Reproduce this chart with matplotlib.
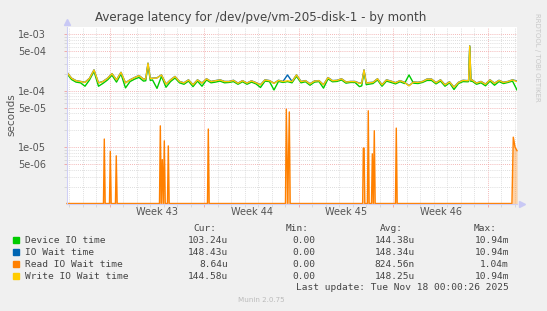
import numpy as np
import matplotlib
matplotlib.use('Agg')
import matplotlib.pyplot as plt
from matplotlib.patches import Rectangle

# time axis in hours since left edge of the graph (8h steps + extra points at spikes)
hours = sorted(list(range(0, 801, 8)) + [140, 148, 524, 532, 714, 716, 718])

# values in units of 1e-4 s
device_io = [2.00, 1.58, 1.42, 1.38, 1.20, 1.55, 2.20, 1.20, 1.35, 1.55,
             1.88, 1.42, 1.98, 1.12, 1.45, 1.60, 1.72, 1.48,
             1.50, 2.90, 1.52,
             1.55, 1.10, 1.80, 1.15, 1.45, 1.68, 1.38, 1.30, 1.48, 1.18, 1.48,
             1.20, 1.55, 1.38, 1.42, 1.48, 1.38, 1.40, 1.45, 1.30, 1.44,
             1.30, 1.42, 1.32, 1.14, 1.48, 1.45, 1.03, 1.46, 1.40, 1.45,
             1.38, 1.80, 1.38, 1.44, 1.25, 1.42, 1.45, 1.11, 1.62, 1.44,
             1.46, 1.55, 1.36, 1.40, 1.40, 1.18,
             1.22, 2.20, 1.28,
             1.30, 1.34, 1.55,
             1.20, 1.48, 1.40, 1.32, 1.44, 1.34, 1.90, 1.36, 1.34, 1.40,
             1.52, 1.52, 1.32, 1.48, 1.20, 1.38, 1.05, 1.34, 1.45, 1.44,
             1.45, 6.00, 1.46,
             1.48, 1.30, 1.38, 1.22, 1.48, 1.25, 1.45, 1.34, 1.40, 1.48, 1.03]
io_wait = [2.12, 1.67, 1.51, 1.46, 1.41, 1.66, 2.34, 1.38, 1.46, 1.66,
           2.01, 1.56, 2.12, 1.38, 1.56, 1.71, 1.86, 1.61,
           1.63, 3.08, 1.65,
           1.67, 1.69, 1.91, 1.31, 1.56, 1.79, 1.46, 1.38, 1.56, 1.28, 1.56,
           1.37, 1.63, 1.46, 1.51, 1.56, 1.46, 1.46, 1.53, 1.36, 1.51,
           1.37, 1.50, 1.39, 1.28, 1.56, 1.51, 1.36, 1.53, 1.46, 1.90,
           1.46, 1.91, 1.46, 1.51, 1.33, 1.49, 1.51, 1.28, 1.71, 1.51,
           1.53, 1.63, 1.43, 1.46, 1.46, 1.36,
           1.37, 2.34, 1.38,
           1.39, 1.41, 1.63,
           1.28, 1.56, 1.48, 1.39, 1.51, 1.41, 1.23, 1.43, 1.41, 1.46,
           1.61, 1.61, 1.39, 1.56, 1.28, 1.44, 1.16, 1.41, 1.53, 1.51,
           1.53, 6.25, 1.55,
           1.56, 1.37, 1.46, 1.31, 1.56, 1.36, 1.53, 1.41, 1.46, 1.56, 1.48]
write_io = [2.11, 1.66, 1.50, 1.45, 1.40, 1.65, 2.33, 1.37, 1.45, 1.65,
            2.00, 1.55, 2.11, 1.37, 1.55, 1.70, 1.85, 1.60,
            1.62, 3.07, 1.64,
            1.66, 1.68, 1.90, 1.30, 1.55, 1.78, 1.45, 1.37, 1.55, 1.27, 1.55,
            1.36, 1.62, 1.45, 1.50, 1.55, 1.45, 1.45, 1.52, 1.35, 1.50,
            1.36, 1.49, 1.38, 1.27, 1.55, 1.50, 1.35, 1.52, 1.45, 1.50,
            1.45, 1.90, 1.45, 1.50, 1.32, 1.48, 1.50, 1.27, 1.70, 1.50,
            1.52, 1.62, 1.42, 1.45, 1.45, 1.35,
            1.36, 2.33, 1.37,
            1.38, 1.40, 1.62,
            1.27, 1.55, 1.47, 1.38, 1.50, 1.40, 1.22, 1.42, 1.40, 1.45,
            1.60, 1.60, 1.38, 1.55, 1.27, 1.43, 1.15, 1.40, 1.52, 1.50,
            1.52, 6.20, 1.54,
            1.55, 1.36, 1.45, 1.30, 1.55, 1.35, 1.52, 1.40, 1.45, 1.55, 1.45]

# read wait is zero nearly all the time, with a few short spikes (seconds)
read_t = [0, 64.8, 66.3, 67.8, 75.5, 77.0, 78.5, 86.1, 87.6, 89.1,
          164.4, 165.9, 167.6, 169.4, 171.2, 173.0, 174.6, 178.6, 180.1, 181.6,
          249.7, 251.2, 252.7, 388.4, 389.9, 392.5, 395.2, 396.7,
          525.6, 526.8, 528.2, 529.4, 534.1, 535.6, 537.1,
          541.3, 542.8, 544.5, 546.3, 547.8, 583.9, 585.4, 586.9,
          791.0, 793.4, 796.5, 800]
read_v = [0, 0, 1.39e-5, 0, 0, 8.4e-6, 0, 0, 7.0e-6, 0,
          0, 2.38e-5, 0, 6.0e-6, 0, 1.29e-5, 0, 0, 1.05e-5, 0,
          0, 2.09e-5, 0, 0, 4.7e-5, 0, 4.2e-5, 0,
          0, 9.6e-6, 9.6e-6, 0, 0, 4.4e-5, 0,
          0, 7.6e-6, 0, 1.95e-5, 0, 0, 2.17e-5, 0,
          0, 1.5e-5, 1.0e-5, 8.64e-6]

weeks = ['Week 43', 'Week 44', 'Week 45', 'Week 46']
legend_names = ['Device IO time', 'IO Wait time', 'Read IO Wait time', 'Write IO Wait time']
legend_colors = ['#00CC00', '#0066B3', '#FF8000', '#FFCC00']
cur = ['103.24u', '148.43u', '8.64u', '144.58u']
mins = ['0.00', '0.00', '0.00', '0.00']
avg = ['144.38u', '148.34u', '824.56n', '148.25u']
mx = ['10.94m', '10.94m', '1.04m', '10.94m']

W, H = 547, 311
fig = plt.figure(figsize=(W / 100, H / 100), dpi=100, facecolor='#F0F0F0')
ax = fig.add_axes([67 / W, 1 - 203.5 / H, 450 / W, 176.5 / H])
ax.set_facecolor('white')

ymin, ymax = 1e-6, 1.346e-3
t = np.array(hours)
ax.plot(t, np.array(device_io) * 1e-4, color=legend_colors[0], lw=1.0)
ax.plot(t, np.array(io_wait) * 1e-4, color=legend_colors[1], lw=1.0)
rv = np.maximum(np.array(read_v), ymin)
ax.fill_between(read_t, ymin, rv, color=legend_colors[2], alpha=0.35, lw=0)
ax.plot(read_t, rv, color=legend_colors[2], lw=1.0, clip_on=False)
ax.plot(t, np.array(write_io) * 1e-4, color=legend_colors[3], lw=1.0)

ax.set_yscale('log')

# grid: weeks red, days gray
first_week = 76.4
week_starts = [first_week + 168 * i for i in range(5)]
days = [first_week - 72 + 24 * i for i in range(34)]
ax.set_xticks(week_starts)
ax.set_xticks(days, minor=True)
ax.set_xticklabels([])
yt = [5e-6, 1e-5, 5e-5, 1e-4, 5e-4, 1e-3]
ax.set_yticks(yt)
ax.set_yticklabels(['%.0e' % v for v in yt])
ym = [m * 10.0 ** e for e in range(-6, -3) for m in (2, 3, 4, 6, 7, 8, 9)]
ax.set_yticks(ym, minor=True)
ax.yaxis.set_minor_formatter(plt.NullFormatter())
ax.set_xlim(0, 800)
ax.set_ylim(ymin, ymax)

red = '#F0A0A0'
gray = '#D4D4D4'
ax.grid(which='major', color=red, linestyle=(0, (1, 1.5)), lw=0.6)
ax.grid(which='minor', color=gray, linestyle=(0, (1, 1.5)), lw=0.6)
ax.set_axisbelow(True)
ax.tick_params(which='major', length=2, width=0.6, color=red, labelsize=7,
               labelcolor='#555555', pad=2)
ax.tick_params(which='minor', length=2, width=0.6, color=gray)
ax.tick_params(axis='y', which='both', length=2, pad=13)
for s in ['top', 'right']:
    ax.spines[s].set_visible(False)
for s in ['left', 'bottom']:
    ax.spines[s].set_color('#CFCFF5')
    ax.spines[s].set_linewidth(0.8)
ax.plot([0], [1.03], marker='^', ms=4, color='#C8C8F5', transform=ax.transAxes, clip_on=False)
ax.plot([1.01], [0], marker='>', ms=4, color='#C8C8F5', transform=ax.transAxes, clip_on=False)

for i, w in enumerate(weeks):
    ax.text(week_starts[i] + 84, -0.048, w, transform=ax.get_xaxis_transform(),
            ha='center', va='center', fontsize=7, color='#555555')

fig.text(261 / W, 1 - 18 / H, 'Average latency for /dev/pve/vm-205-disk-1 - by month',
         ha='center', va='center', fontsize=8.6, color='#444444')
fig.text(11 / W, 1 - 115 / H, 'seconds', rotation=90, ha='center', va='center',
         fontsize=7.5, color='#555555')
fig.text(537.5 / W, 1 - 57 / H, 'RRDTOOL / TOBI OETIKER', rotation=270, ha='center',
         va='center', fontsize=5, color='#C8C8C8')

mono = dict(family='DejaVu Sans Mono', fontsize=6.8, color='#444444')
hdr_y = 230.7
fig.text(216 / W, 1 - hdr_y / H, 'Cur:', ha='right', va='baseline', **mono)
fig.text(309 / W, 1 - hdr_y / H, 'Min:', ha='right', va='baseline', **mono)
fig.text(403 / W, 1 - hdr_y / H, 'Avg:', ha='right', va='baseline', **mono)
fig.text(497 / W, 1 - hdr_y / H, 'Max:', ha='right', va='baseline', **mono)
for i, name in enumerate(legend_names):
    yb = 243.3 + 12 * i
    fig.patches.append(Rectangle((13.3 / W, 1 - (yb - 0.6) / H), 5.3 / W, 5.3 / H,
                                 transform=fig.transFigure, color=legend_colors[i]))
    fig.text(25 / W, 1 - yb / H, name, ha='left', va='baseline', **mono)
    fig.text(227.7 / W, 1 - yb / H, cur[i], ha='right', va='baseline', **mono)
    fig.text(315 / W, 1 - yb / H, mins[i], ha='right', va='baseline', **mono)
    fig.text(415 / W, 1 - yb / H, avg[i], ha='right', va='baseline', **mono)
    fig.text(509 / W, 1 - yb / H, mx[i], ha='right', va='baseline', **mono)
fig.text(509 / W, 1 - 290.5 / H, 'Last update: Tue Nov 18 00:00:26 2025',
         ha='right', va='baseline', **mono)
fig.text(261 / W, 1 - 300.5 / H, 'Munin 2.0.75', ha='center', va='center',
         fontsize=5.1, color='#BBBBBB')

fig.savefig('out.png', dpi=100, facecolor=fig.get_facecolor())
